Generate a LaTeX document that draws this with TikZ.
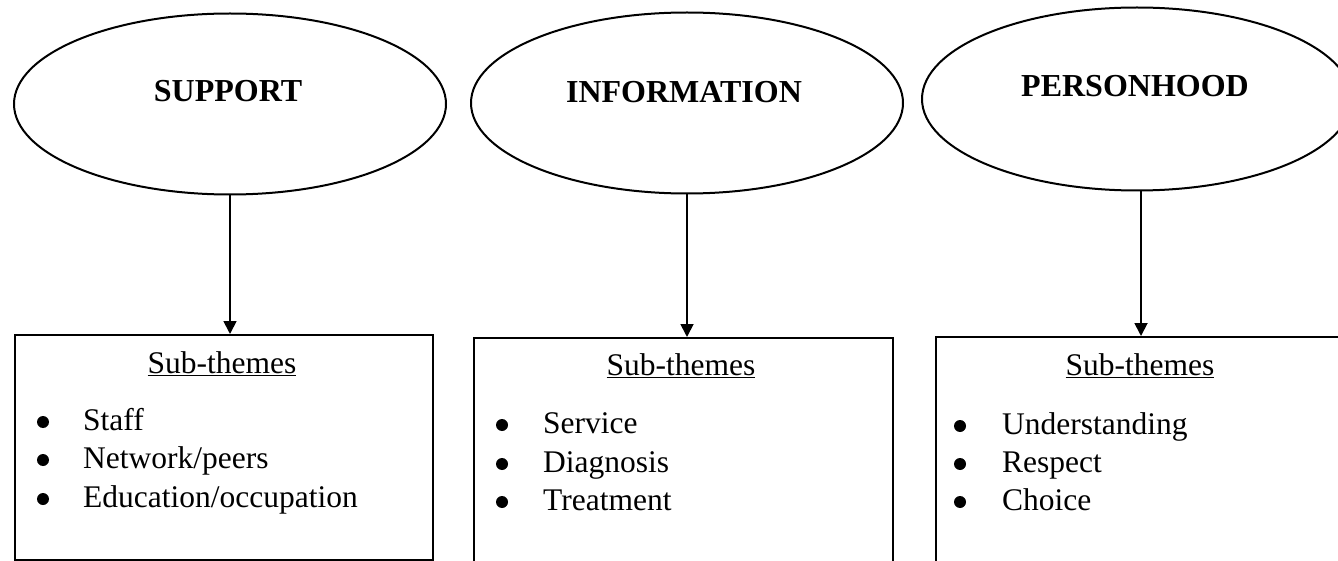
\documentclass[tikz,border=0pt]{standalone}
\usepackage{fontspec}
\setmainfont{Liberation Serif}
\usetikzlibrary{shapes,arrows.meta,positioning,calc}

\begin{document}
\begin{tikzpicture}[
    x=1pt, y=-1pt,
    theme/.style={draw, ellipse, line width=2pt, minimum width=432pt, minimum height=181pt, inner sep=0pt},
    subbox/.style={draw, rectangle, line width=2pt, anchor=north west, inner sep=0pt, minimum height=260pt},
    heading/.style={font=\fontsize{32}{38}\selectfont\bfseries, anchor=base, inner sep=0pt},
    subtitle/.style={font=\fontsize{31.5}{38}\selectfont, anchor=base, inner sep=0pt},
    item/.style={font=\fontsize{31.5}{38}\selectfont, anchor=base west, inner sep=0pt},
    dot/.style={circle, fill, inner sep=0pt, minimum size=12pt},
    link/.style={-{Triangle[length=13pt,width=13pt]}, line width=1.8pt}
]
    \clip (0,0) rectangle (1338,561);

    % themes
    \node [theme] (e1) at (230,104) {};
    \node [theme] (e2) at (687,103) {};
    \node [theme, minimum width=430pt, minimum height=183pt] (e3) at (1137,99) {};
    \node [heading] (h1) at (228,102) {SUPPORT};
    \node [heading] (h2) at (684,103) {INFORMATION};
    \node [heading] (h3) at (1135,97) {PERSONHOOD};

    % sub-theme boxes
    \node [subbox, minimum width=418pt, minimum height=225pt] (b1) at (14,334) {};
    \node [subbox, minimum width=419pt] (b2) at (473,337) {};
    \node [subbox, minimum width=410pt] (b3) at (935,336) {};

    \node [subtitle] (s1) at (222,373) {\underline{Sub-themes}};
    \node [subtitle] (s2) at (681,375) {\underline{Sub-themes}};
    \node [subtitle] (s3) at (1140,375) {\underline{Sub-themes}};

    % box 1
    \node [dot] (d11) at (43,422) {};
    \node [dot] (d12) at (43,460) {};
    \node [dot] (d13) at (43,499) {};
    \node [item] (i11) at (83,430) {Staff};
    \node [item] (i12) at (83,468) {Network/peers};
    \node [item] (i13) at (83,507) {Education/occupation};

    % box 2
    \node [dot] (d21) at (502,425) {};
    \node [dot] (d22) at (502,464) {};
    \node [dot] (d23) at (502,502) {};
    \node [item] (i21) at (543,433) {Service};
    \node [item] (i22) at (543,472) {Diagnosis};
    \node [item] (i23) at (543,510) {Treatment};

    % box 3
    \node [dot] (d31) at (960,426) {};
    \node [dot] (d32) at (960,464) {};
    \node [dot] (d33) at (960,502) {};
    \node [item] (i31) at (1002,434) {Understanding};
    \node [item] (i32) at (1002,472) {Respect};
    \node [item] (i33) at (1002,510) {Choice};

    % arrows
    \draw [link] (e1.south) -- (e1.south |- b1.north);
    \draw [link] (e2.south) -- (e2.south |- b2.north);
    \draw [link] ([xshift=4pt]e3.south) -- ([xshift=4pt]e3.south |- b3.north);
\end{tikzpicture}
\end{document}
